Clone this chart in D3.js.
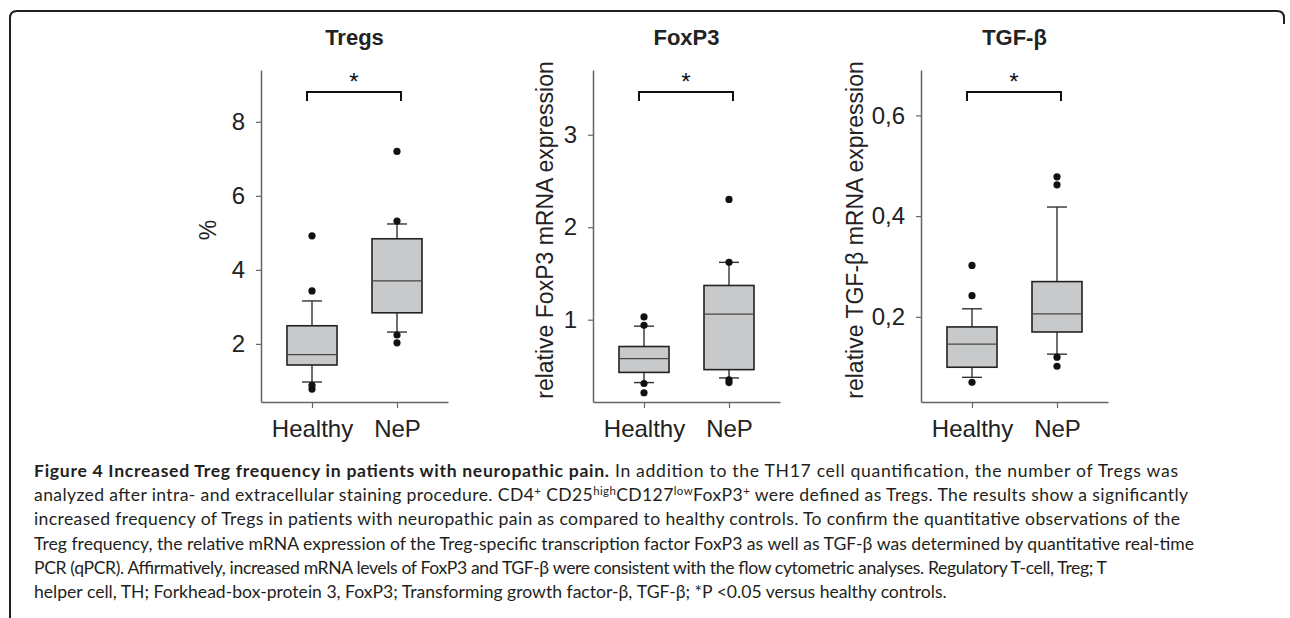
<!DOCTYPE html>
<html>
<head>
<meta charset="utf-8">
<script src="https://cdn.jsdelivr.net/npm/d3@7"></script>
<style>
  body { margin: 0; background: #fff; }
  svg { display: block; }
</style>
</head>
<body>
<div id="chart"></div>
<script>
// groups on the x axis of every panel
const groups = ['Healthy', 'NeP'];

// box stats per group: [lower whisker, q1, median, q3, upper whisker]
const tregsStats = [[0.97, 1.43, 1.71, 2.49, 3.16], [2.32, 2.84, 3.70, 4.84, 5.24]];
const tregsOutliers = [[0.78, 0.88, 3.43, 4.92], [2.03, 2.24, 5.32, 7.20]];
const tregsTicks = [2, 4, 6, 8];

const foxp3Stats = [[0.32, 0.43, 0.58, 0.71, 0.93], [0.37, 0.46, 1.06, 1.37, 1.62]];
const foxp3Outliers = [[0.21, 0.31, 0.94, 1.03], [0.32, 0.35, 1.62, 2.30]];
const foxp3Ticks = [1, 2, 3];

const tgfStats = [[0.08, 0.10, 0.146, 0.18, 0.216], [0.126, 0.17, 0.206, 0.27, 0.418]];
const tgfOutliers = [[0.07, 0.242, 0.302], [0.102, 0.12, 0.462, 0.478]];
const tgfTicks = [0.2, 0.4, 0.6];

const captionLines = [
  [['b', 'Figure 4 Increased Treg frequency in patients with neuropathic pain.'], ['n', ' In addition to the TH17 cell quantification, the number of Tregs was']],
  [['n', 'analyzed after intra- and extracellular staining procedure. CD4'], ['sup', '+'], ['n', ' CD25'], ['sup', 'high'], ['n', 'CD127'], ['sup', 'low'], ['n', 'FoxP3'], ['sup', '+'], ['n', ' were defined as Tregs. The results show a significantly']],
  [['n', 'increased frequency of Tregs in patients with neuropathic pain as compared to healthy controls. To confirm the quantitative observations of the']],
  [['n', 'Treg frequency, the relative mRNA expression of the Treg-specific transcription factor FoxP3 as well as TGF-\u03b2 was determined by quantitative real-time']],
  [['n', 'PCR (qPCR). Affirmatively, increased mRNA levels of FoxP3 and TGF-\u03b2 were consistent with the flow cytometric analyses. Regulatory T-cell, Treg; T']],
  [['n', 'helper cell, TH; Forkhead-box-protein 3, FoxP3; Transforming growth factor-\u03b2, TGF-\u03b2; *P <0.05 versus healthy controls.']]
];

const W = 1290, H = 618;
const chartFont = '"Liberation Sans", Arial, sans-serif';
const boxWidth = 50;   // width of each box
const capWidth = 20;   // width of whisker caps
const yTop = 70, yBottom = 402;

// one entry per panel: layout only, data comes from the arrays above
const panels = [
  { title: 'Tregs', label: '%', stats: tregsStats, outliers: tregsOutliers, ticks: tregsTicks,
    domain: [0.43, 9.4], axisX: 261, xEnd: 448, labelX: 208, fmt: d3.format('d') },
  { title: 'FoxP3', label: 'relative FoxP3 mRNA expression', stats: foxp3Stats, outliers: foxp3Outliers, ticks: foxp3Ticks,
    domain: [0.11, 3.7], axisX: 593, xEnd: 780, labelX: 545, fmt: d3.format('d') },
  { title: 'TGF-\u03b2', label: 'relative TGF-\u03b2 mRNA expression', stats: tgfStats, outliers: tgfOutliers, ticks: tgfTicks,
    domain: [0.031, 0.69], axisX: 921, xEnd: 1108, labelX: 855, fmt: d => d3.format('.1f')(d).replace('.', ',') }
];

const svg = d3.select('#chart').append('svg')
  .attr('width', W)
  .attr('height', H);

// frame with rounded top corners
svg.append('path')
  .attr('d', 'M10,' + H + ' L10,18 Q10,11 17,11 L1277,11 Q1284,11 1284,18 L1284,24')
  .attr('fill', 'none')
  .attr('stroke', '#231f20')
  .attr('stroke-width', 2);

panels.forEach(function (p) {
  const g = svg.append('g');

  const y = d3.scaleLinear().domain(p.domain).range([yBottom, yTop]);
  const x = d3.scalePoint().domain(groups).range([p.axisX, p.xEnd]).padding(0.6);

  // y axis
  const yAxis = g.append('g')
    .attr('transform', 'translate(' + p.axisX + ',0)')
    .call(d3.axisLeft(y).tickValues(p.ticks).tickFormat(p.fmt).tickSizeInner(5).tickSizeOuter(0).tickPadding(11));

  // x axis
  const xAxis = g.append('g')
    .attr('transform', 'translate(0,' + yBottom + ')')
    .call(d3.axisBottom(x).tickSizeInner(6).tickSizeOuter(0).tickPadding(12));

  [yAxis, xAxis].forEach(function (a) {
    a.select('.domain').attr('stroke', '#666').attr('stroke-width', 1.5);
    a.selectAll('.tick line').attr('stroke', '#666').attr('stroke-width', 1.2);
    a.selectAll('.tick text')
      .attr('fill', '#222')
      .style('font-family', chartFont)
      .style('font-size', '24px');
  });
  xAxis.selectAll('.tick text').attr('dy', '0.71em');

  // title
  g.append('text')
    .attr('x', (x('Healthy') + x('NeP')) / 2)
    .attr('y', 45)
    .attr('text-anchor', 'middle')
    .style('font-family', chartFont)
    .style('font-size', '22px')
    .style('font-weight', 'bold')
    .attr('fill', '#222')
    .text(p.title);

  // y label
  g.append('text')
    .attr('transform', 'translate(' + p.labelX + ',' + 230 + ') rotate(-90)')
    .attr('text-anchor', 'middle')
    .attr('dy', '0.35em')
    .style('font-family', chartFont)
    .style('font-size', '23px')
    .attr('fill', '#222')
    .text(p.label);

  // significance bracket
  const bx0 = x('Healthy') - 5, bx1 = x('NeP') + 4;
  g.append('path')
    .attr('d', 'M' + bx0 + ',101 L' + bx0 + ',92 L' + bx1 + ',92 L' + bx1 + ',101')
    .attr('fill', 'none')
    .attr('stroke', '#111')
    .attr('stroke-width', 2);
  g.append('text')
    .attr('x', (bx0 + bx1) / 2)
    .attr('y', 90)
    .attr('text-anchor', 'middle')
    .style('font-family', chartFont)
    .style('font-size', '24px')
    .attr('fill', '#111')
    .text('*');

  // boxes
  const box = g.selectAll('.box')
    .data(groups.map(function (name, i) { return { name: name, s: p.stats[i], out: p.outliers[i] }; }))
    .enter()
    .append('g')
    .attr('class', 'box');

  // whiskers
  box.append('line')
    .attr('x1', d => x(d.name)).attr('x2', d => x(d.name))
    .attr('y1', d => y(d.s[0])).attr('y2', d => y(d.s[4]))
    .attr('stroke', '#333').attr('stroke-width', 1.4);
  [0, 4].forEach(function (k) {
    box.append('line')
      .attr('x1', d => x(d.name) - capWidth / 2).attr('x2', d => x(d.name) + capWidth / 2)
      .attr('y1', d => y(d.s[k])).attr('y2', d => y(d.s[k]))
      .attr('stroke', '#333').attr('stroke-width', 1.4);
  });

  box.append('rect')
    .attr('x', d => x(d.name) - boxWidth / 2)
    .attr('width', boxWidth)
    .attr('y', d => y(d.s[3]))
    .attr('height', d => y(d.s[1]) - y(d.s[3]))
    .attr('fill', '#c8c9cb')
    .attr('stroke', '#222')
    .attr('stroke-width', 1.6);

  box.append('line')
    .attr('x1', d => x(d.name) - boxWidth / 2).attr('x2', d => x(d.name) + boxWidth / 2)
    .attr('y1', d => y(d.s[2])).attr('y2', d => y(d.s[2]))
    .attr('stroke', '#444').attr('stroke-width', 1.3);

  // outliers
  box.selectAll('circle')
    .data(d => d.out.map(v => ({ name: d.name, v: v })))
    .enter()
    .append('circle')
    .attr('cx', d => x(d.name))
    .attr('cy', d => y(d.v))
    .attr('r', 3.6)
    .attr('fill', '#111');
});

// caption: one font size for all lines (sized on the longest line),
// then letter spacing nudged so each line ends where it does in the figure
const captionLeft = 34;
const captionEnds = [1178, 1188, 1180, 1194, 1107, 960];
const caption = svg.append('g')
  .style('font-family', 'Lato, "Open Sans", sans-serif')
  .style('font-size', '17px')
  .attr('fill', '#231f20');

const lines = captionLines.map(function (parts, i) {
  const t = caption.append('text')
    .attr('x', captionLeft)
    .attr('y', 477 + i * 24.2);
  parts.forEach(function (pt) {
    const s = t.append('tspan').text(pt[1]);
    if (pt[0] === 'b') s.style('font-weight', 'bold');
    if (pt[0] === 'sup') s.attr('baseline-shift', 'super').attr('class', 'sup');
  });
  return t;
});

const natural = lines[3].node().getComputedTextLength();
const fs = 17 * (captionEnds[3] - captionLeft) / natural;
caption.style('font-size', fs + 'px');
caption.selectAll('.sup').style('font-size', (fs * 0.65) + 'px');
lines.forEach(function (t, i) {
  if (i < 5) t.attr('textLength', captionEnds[i] - captionLeft).attr('lengthAdjust', 'spacing');
});
</script>
</body>
</html>
